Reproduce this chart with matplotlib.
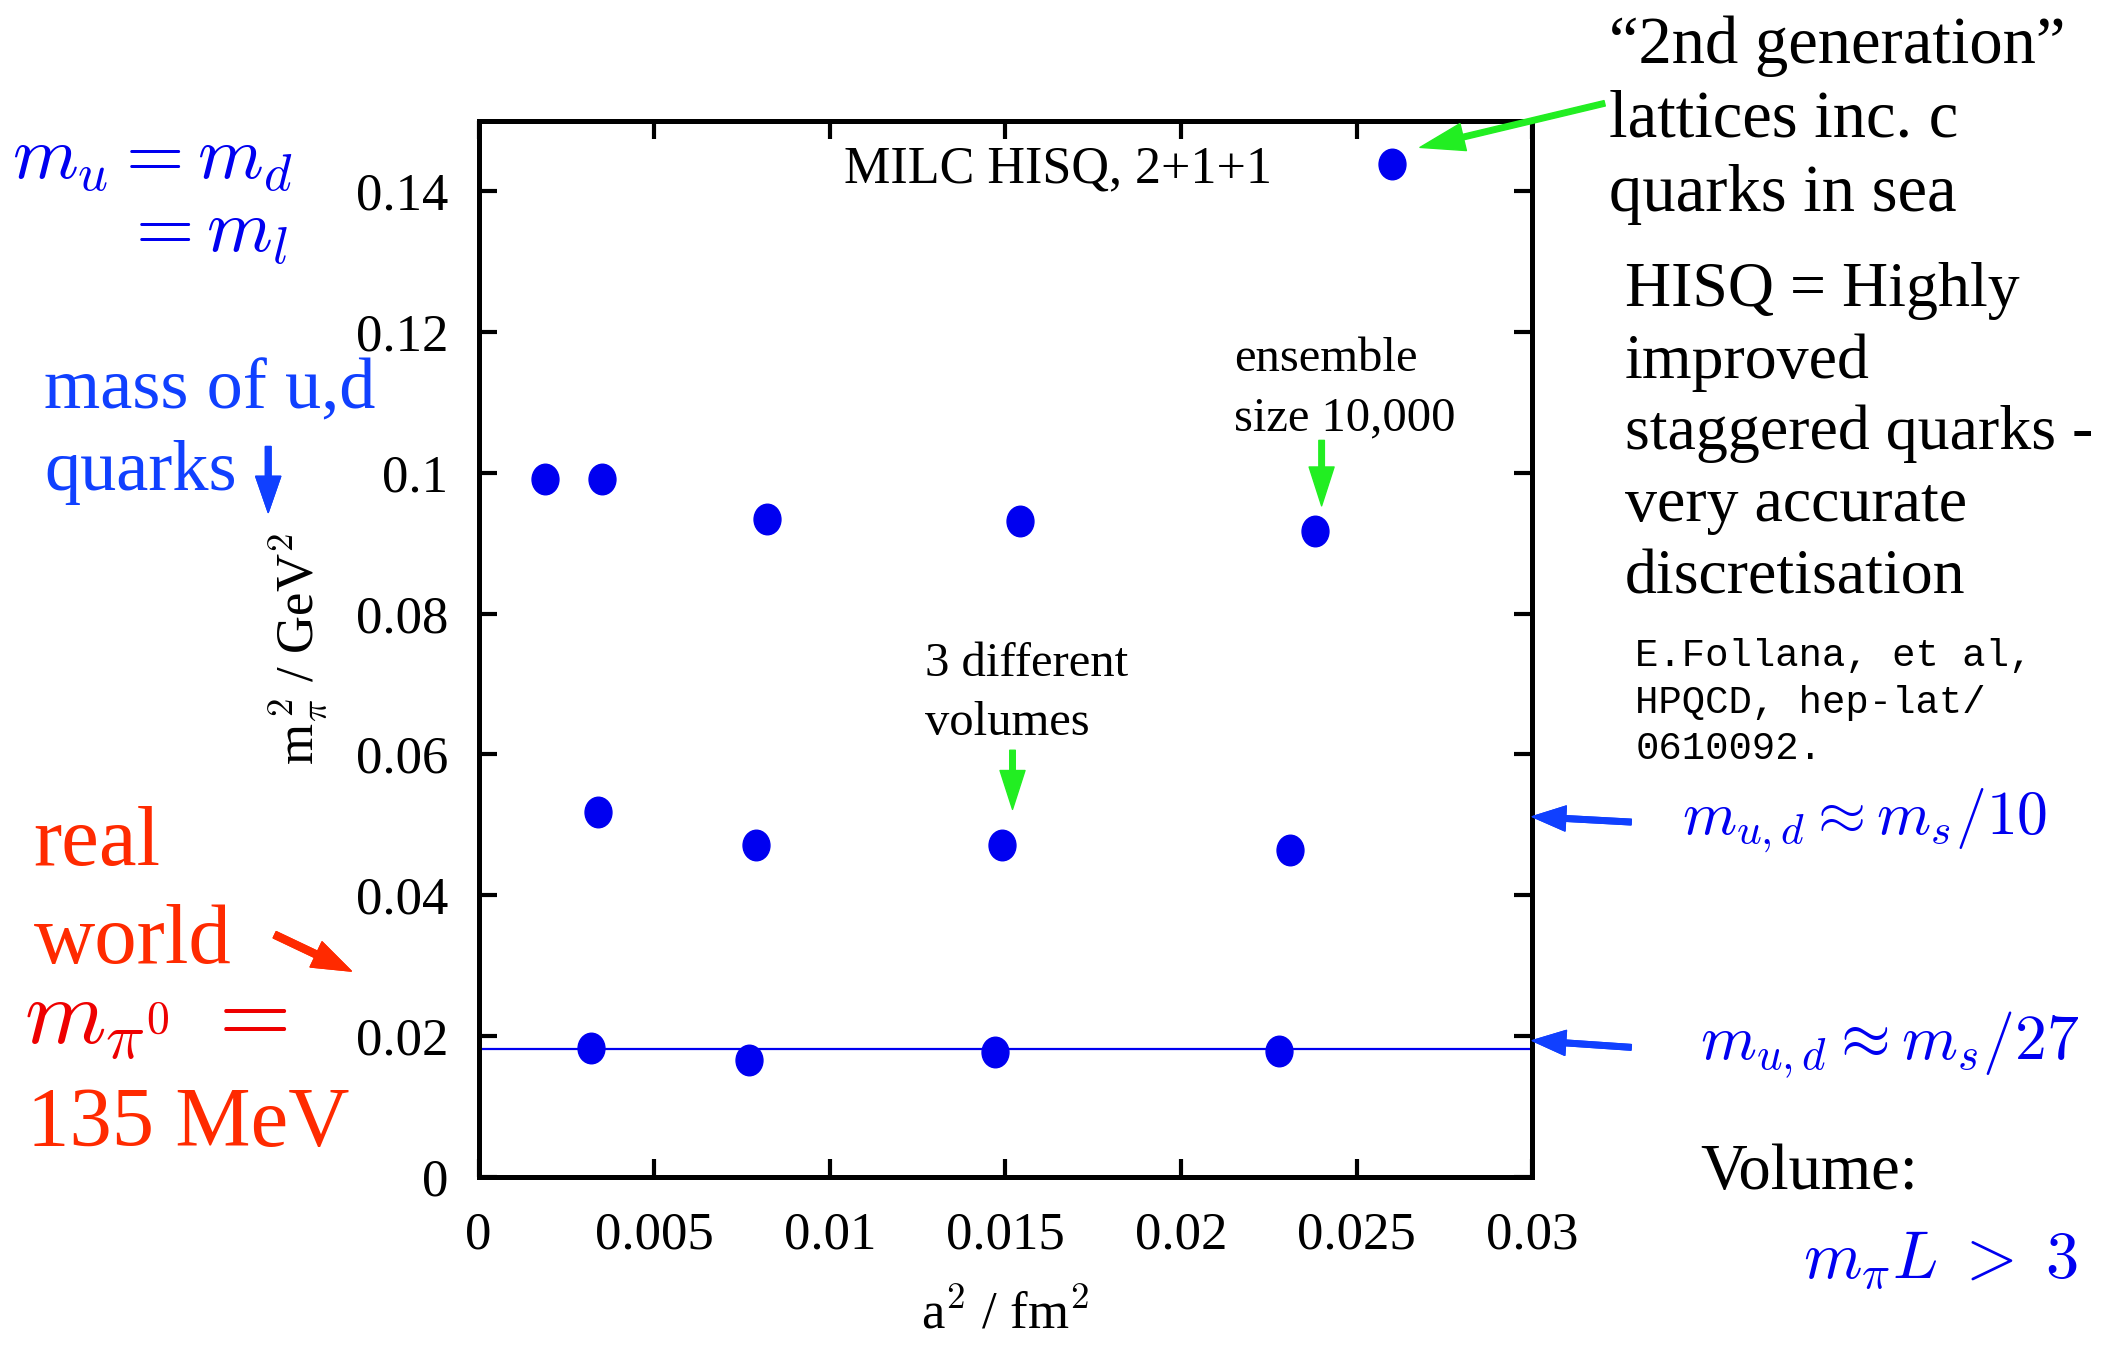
import numpy as np
import matplotlib
matplotlib.use("Agg")
import matplotlib.pyplot as plt
from matplotlib.path import Path
from matplotlib.transforms import Affine2D

plt.rcParams['font.family'] = ['Liberation Serif', 'DejaVu Serif']
plt.rcParams['mathtext.fontset'] = 'cm'

# pion mass squared vs lattice spacing squared, MILC HISQ 2+1+1 ensembles
a2_ms5 = [0.0019, 0.0035, 0.0082, 0.0154, 0.0238]
mpi2_ms5 = [0.0991, 0.0991, 0.0934, 0.0932, 0.0917]

a2_ms10 = [0.0034, 0.0079, 0.0149, 0.0231]
mpi2_ms10 = [0.0518, 0.0471, 0.0471, 0.0465]

a2_ms27 = [0.0032, 0.0077, 0.0147, 0.0228]
mpi2_ms27 = [0.0183, 0.0166, 0.0177, 0.0179]

a2_coarse = [0.0260]
mpi2_coarse = [0.1439]

mpi0_sq = 0.135 ** 2  # physical neutral pion, GeV^2

xticks = [0, 0.005, 0.01, 0.015, 0.02, 0.025, 0.03]
xticklabels = ['0', '0.005', '0.01', '0.015', '0.02', '0.025', '0.03']
yticks = [0, 0.02, 0.04, 0.06, 0.08, 0.1, 0.12, 0.14]
yticklabels = ['0', '0.02', '0.04', '0.06', '0.08', '0.1', '0.12', '0.14']

blue = '#0000f0'
lblue = '#1040ff'
red = '#ff2a00'
dred = '#ee0000'
green = '#22ee22'

# slightly tall ellipse for the points
dot = Path.unit_circle().transformed(Affine2D().scale(0.88, 1.0))

fig = plt.figure(figsize=(21.02, 13.45), dpi=100)
ax = fig.add_axes([0.2277, 0.1249, 0.5013, 0.7854])

for xs, ys in [(a2_ms5, mpi2_ms5), (a2_ms10, mpi2_ms10),
               (a2_ms27, mpi2_ms27), (a2_coarse, mpi2_coarse)]:
    ax.plot(xs, ys, linestyle='none', marker=dot, ms=22, color=blue)

ax.axhline(mpi0_sq, color=blue, lw=1.6)

ax.set_xlim(0, 0.03)
ax.set_ylim(0, 0.15)
ax.set_xticks(xticks)
ax.set_xticklabels(xticklabels)
ax.set_yticks(yticks)
ax.set_yticklabels(yticklabels)
ax.tick_params(direction='in', top=True, right=True, length=13, width=3,
               labelsize=38)
ax.tick_params(axis='y', pad=22)
ax.tick_params(axis='x', pad=25)
for sp in ax.spines.values():
    sp.set_linewidth(3.6)

ax.set_xlabel(r'a$^2$ / fm$^2$', fontsize=38, labelpad=22)
ax.set_ylabel(r'm$_\pi^{\,2}$ / GeV$^2$', fontsize=38, labelpad=18)

ax.text(0.0165, 0.1412, 'MILC HISQ, 2+1+1', fontsize=37.5, ha='center',
        va='baseline')

# notes inside the frame with green pointers
ax.text(0.0215, 0.1144, 'ensemble', fontsize=35, va='baseline')
ax.text(0.0215, 0.1060, 'size 10,000', fontsize=35, va='baseline')
ax.annotate('', xy=(0.0240, 0.0953), xytext=(0.0240, 0.1046),
            arrowprops=dict(facecolor=green, edgecolor=green, width=4,
                            headwidth=18, headlength=28, shrink=0))

ax.text(0.0127, 0.0712, '3 different', fontsize=35, va='baseline')
ax.text(0.0127, 0.0628, 'volumes', fontsize=35, va='baseline')
ax.annotate('', xy=(0.0152, 0.0522), xytext=(0.0152, 0.0606),
            arrowprops=dict(facecolor=green, edgecolor=green, width=4,
                            headwidth=18, headlength=28, shrink=0))

ax.annotate('', xy=(0.0268, 0.1462), xytext=(0.7634, 0.9232),
            textcoords='figure fraction', annotation_clip=False,
            arrowprops=dict(facecolor=green, edgecolor=green, width=4,
                            headwidth=20, headlength=32, shrink=0))

# left-hand notes
fig.text(0.139, 0.867, r'$m_u = m_d$', fontsize=54, color=blue,
         ha='right', va='baseline')
fig.text(0.137, 0.8126, r'$= m_l$', fontsize=54, color=blue,
         ha='right', va='baseline')
fig.text(0.021, 0.696, 'mass of u,d', fontsize=52, color=lblue,
         va='baseline')
fig.text(0.021, 0.636, 'quarks', fontsize=52, color=lblue, va='baseline')
fig.add_artist(plt.annotate('', xy=(0.1276, 0.619), xytext=(0.1276, 0.668),
                            xycoords='figure fraction',
                            arrowprops=dict(facecolor=lblue, edgecolor=lblue,
                                            width=4, headwidth=18,
                                            headlength=26, shrink=0)))

fig.text(0.016, 0.357, 'real', fontsize=61, color=red, va='baseline')
fig.text(0.016, 0.284, 'world', fontsize=61, color=red, va='baseline')
fig.text(0.0115, 0.2243, r'$m_{\pi^0}\;=$', fontsize=67, color=dred,
         va='baseline')
fig.text(0.0128, 0.1476, '135 MeV', fontsize=61, color=red, va='baseline')
fig.add_artist(plt.annotate('', xy=(0.1671, 0.278), xytext=(0.1307, 0.305),
                            xycoords='figure fraction',
                            arrowprops=dict(facecolor=red, edgecolor=red,
                                            width=5, headwidth=20,
                                            headlength=28, shrink=0)))

# right-hand notes
gen_lines = ['\u201c2nd generation\u201d', 'lattices inc. c', 'quarks in sea']
for i, line in enumerate(gen_lines):
    fig.text(0.7653, 0.953 - i * 0.0548, line, fontsize=48, va='baseline')

hisq_lines = ['HISQ = Highly', 'improved', 'staggered quarks -',
              'very accurate', 'discretisation']
for i, line in enumerate(hisq_lines):
    fig.text(0.773, 0.7727 - i * 0.0534, line, fontsize=46, va='baseline')

ref_lines = ['E.Follana, et al,', 'HPQCD, hep-lat/', '0610092.']
for i, line in enumerate(ref_lines):
    fig.text(0.778, 0.5045 - i * 0.0344, line, fontsize=28,
             family='Liberation Mono', va='baseline')

fig.text(0.8004, 0.3799, r'$m_{u,d} \approx m_s/10$', fontsize=44.5,
         color=blue, va='baseline')
fig.text(0.8087, 0.2124, r'$m_{u,d} \approx m_s/27$', fontsize=46,
         color=blue, va='baseline')
fig.text(0.8087, 0.1157, 'Volume:', fontsize=46.5, va='baseline')
fig.text(0.8578, 0.0499, r'$m_\pi L \;>\; 3$', fontsize=48, color=blue,
         va='baseline')

for y0, y1 in [(0.3888, 0.3928), (0.2213, 0.2263)]:
    fig.add_artist(plt.annotate('', xy=(0.729, y1), xytext=(0.776, y0),
                                xycoords='figure fraction',
                                arrowprops=dict(facecolor=lblue,
                                                edgecolor=lblue, width=4,
                                                headwidth=18, headlength=24,
                                                shrink=0)))

fig.savefig('out.png', dpi=100)
